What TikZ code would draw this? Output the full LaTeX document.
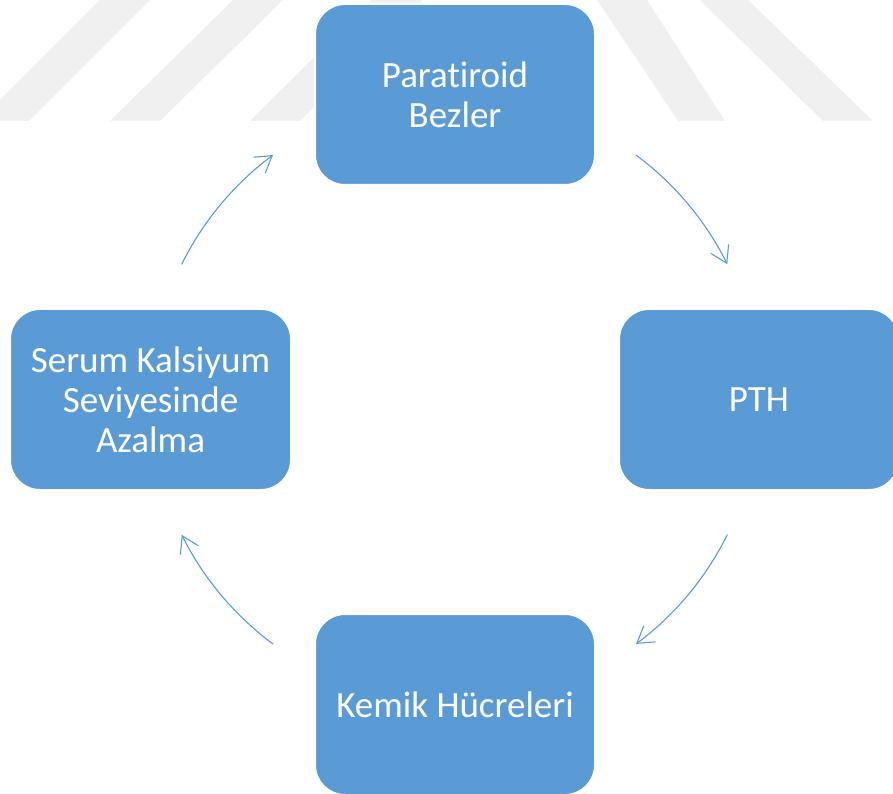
\documentclass[tikz,border=0pt]{standalone}
\usepackage{fontspec}
\setmainfont{Carlito}[Ligatures=NoCommon]
\usetikzlibrary{arrows.meta}
\definecolor{boxblue}{HTML}{5B9BD5}
\definecolor{wmgray}{RGB}{240,240,240}
\begin{document}
\begin{tikzpicture}[x=1pt,y=1pt,
  box/.style={fill=boxblue, draw=white, line width=2pt, rounded corners=30pt,
    minimum width=280pt, minimum height=181pt, inner sep=0pt, text=white,
    align=center, font=\fontsize{37}{40}\selectfont},
  conn/.style={draw=boxblue, line width=1.1pt, line cap=round,
    -{Straight Barb[length=16pt,width=20pt,line width=1.1pt]}},
  wm/.style={fill=wmgray, draw=none}]
\useasboundingbox (0,0) rectangle (893,793);
\begin{scope}
\clip (0,0) rectangle (893,793);
% watermark stripes
\fill[wm] (100,793) -- (150,793) -- (29,672) -- (-21,672) -- cycle;
\fill[wm] (233,793) -- (283,793) -- (160,672) -- (110,672) -- cycle;
\fill[wm] (372,793) -- (422,793) -- (300,672) -- (250,672) -- cycle;
\fill[wm] (597,793) -- (647,793) -- (725,672) -- (678,672) -- cycle;
\fill[wm] (700,793) -- (748,793) -- (873,672) -- (823,672) -- cycle;
% boxes
\node[box] (para) at (455,698.5) {Paratiroid\\Bezler};
\node[box] (pth) at (759,393.5) {PTH};
\node[box] (kemik) at (455,88.5) {Kemik Hücreleri};
\node[box, minimum width=281pt] (serum) at (150.5,393.5) {Serum Kalsiyum\\Seviyesinde\\Azalma};
% connectors
\coordinate (ctr) at (454.5,393.5);
\draw[conn] ([shift={(53.4:304.5pt)}]ctr) arc[start angle=53.4, end angle=26.4, radius=304.5pt];
\draw[conn] ([shift={(-26.4:304.5pt)}]ctr) arc[start angle=-26.4, end angle=-53.4, radius=304.5pt];
\draw[conn] ([shift={(-126.6:304.5pt)}]ctr) arc[start angle=-126.6, end angle=-153.6, radius=304.5pt];
\draw[conn] ([shift={(153.6:304.5pt)}]ctr) arc[start angle=153.6, end angle=126.6, radius=304.5pt];
\end{scope}
\end{tikzpicture}
\end{document}
